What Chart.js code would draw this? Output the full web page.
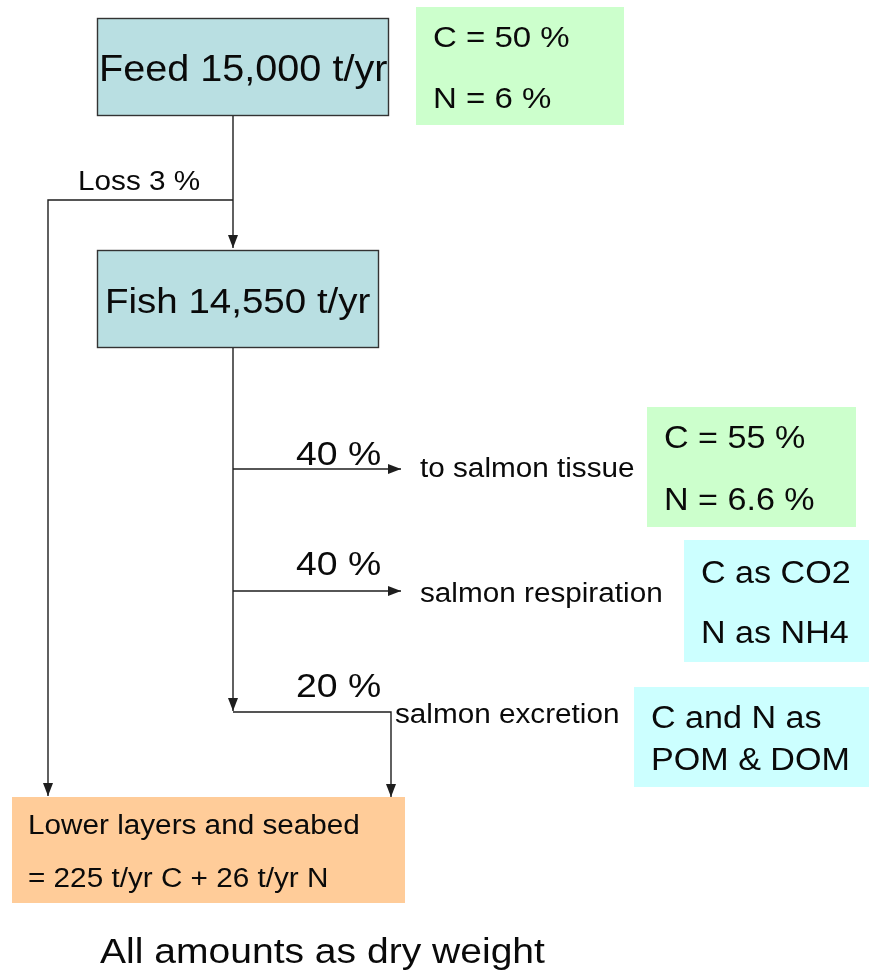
<!DOCTYPE html>
<html>
<head>
<meta charset="utf-8">
<script src="https://cdn.jsdelivr.net/npm/chart.js@4"></script>
<style>
    html, body { margin: 0; padding: 0; background: #fff; }
    #wrap { width: 869px; height: 970px; position: relative; }
</style>
</head>
<body>
<div id="wrap"><canvas id="flowChart"></canvas></div>
<script>
// Diagram content
const nodeLabels = ["Feed 15,000 t/yr", "Fish 14,550 t/yr"];
const feedShares = ["C = 50 %", "N = 6 %"];
const lossPercent = 3;
const flowPercents = [40, 40, 20];
const flowLabels = ["to salmon tissue", "salmon respiration", "salmon excretion"];
const tissueShares = ["C = 55 %", "N = 6.6 %"];
const respirationForms = ["C as CO2", "N as NH4"];
const excretionForms = ["C and N as", "POM & DOM"];
const seabedLines = ["Lower layers and seabed", "= 225 t/yr C + 26 t/yr N"];
const footnote = "All amounts as dry weight";

// Layout (diagram units = pixels of the 869x970 page)
const FONT = '"Liberation Sans", Arial, sans-serif';
const STRETCH = 1.1;
const lineColor = "#1e1e1e";

const boxes = [
    { x0: 97, y0: 18, x1: 389, y1: 116, fill: "#b9dfe2", border: true, clip: true,
      lines: [nodeLabels[0]], tx: 99, ty: [81], size: 36 },
    { x0: 416, y0: 7, x1: 624, y1: 125, fill: "#ccffcc",
      lines: feedShares, tx: 433, ty: [47, 108], size: 30 },
    { x0: 97, y0: 250, x1: 379, y1: 348, fill: "#b9dfe2", border: true,
      lines: [nodeLabels[1]], tx: 105, ty: [313], size: 35 },
    { x0: 647, y0: 407, x1: 856, y1: 527, fill: "#ccffcc",
      lines: tissueShares, tx: 664, ty: [448, 510], size: 31 },
    { x0: 684, y0: 540, x1: 869, y1: 662, fill: "#ccffff",
      lines: respirationForms, tx: 701, ty: [583, 643], size: 31 },
    { x0: 634, y0: 687, x1: 869, y1: 787, fill: "#ccffff",
      lines: excretionForms, tx: 651, ty: [728, 770], size: 31 },
    { x0: 12, y0: 797, x1: 405, y1: 903, fill: "#ffcc99",
      lines: seabedLines, tx: 28, ty: [834, 887], size: 27 }
];

const labels = [
    { text: "Loss " + lossPercent + " %", x: 78, y: 190, size: 27 },
    { text: flowPercents[0] + " %", x: 296, y: 465, size: 34 },
    { text: flowLabels[0], x: 420, y: 477, size: 27 },
    { text: flowPercents[1] + " %", x: 296, y: 575, size: 34 },
    { text: flowLabels[1], x: 420, y: 602, size: 27 },
    { text: flowPercents[2] + " %", x: 296, y: 697, size: 34 },
    { text: flowLabels[2], x: 395, y: 723, size: 27 },
    { text: footnote, x: 100, y: 963, size: 35.5 }
];

const connectors = [
    [[233, 116], [233, 248]],
    [[233, 200], [48, 200], [48, 796]],
    [[233, 348], [233, 711]],
    [[233, 469], [401, 469]],
    [[233, 591], [401, 591]],
    [[233, 712], [391, 712], [391, 797]]
];

function drawText(ctx, str, x, y, size) {
    ctx.save();
    ctx.translate(x, y);
    ctx.scale(STRETCH, 1);
    ctx.font = size + "px " + FONT;
    ctx.fillStyle = "#0a0a0a";
    ctx.textBaseline = "alphabetic";
    ctx.fillText(str, 0, 0);
    ctx.restore();
}

const diagramPlugin = {
    id: "diagram",
    beforeDatasetsDraw(chart) {
        const { ctx, scales: { x, y } } = chart;
        boxes.forEach(b => {
            const px0 = x.getPixelForValue(b.x0), px1 = x.getPixelForValue(b.x1);
            const py0 = y.getPixelForValue(b.y0), py1 = y.getPixelForValue(b.y1);
            ctx.save();
            ctx.fillStyle = b.fill;
            ctx.fillRect(px0, py0, px1 - px0, py1 - py0);
            if (b.border) {
                ctx.strokeStyle = "#333";
                ctx.lineWidth = 1.4;
                ctx.strokeRect(px0 + 0.5, py0 + 0.5, px1 - px0 - 1, py1 - py0 - 1);
            }
            ctx.restore();
        });
    },
    afterDatasetsDraw(chart) {
        const { ctx, scales: { x, y } } = chart;

        // arrowheads at the end of every connector
        chart.data.datasets.forEach(ds => {
            const pts = ds.data;
            const a = pts[pts.length - 2], b = pts[pts.length - 1];
            const ax = x.getPixelForValue(a.x), ay = y.getPixelForValue(a.y);
            const bx = x.getPixelForValue(b.x), by = y.getPixelForValue(b.y);
            const ang = Math.atan2(by - ay, bx - ax);
            ctx.save();
            ctx.translate(bx, by);
            ctx.rotate(ang);
            ctx.beginPath();
            ctx.moveTo(0, 0);
            ctx.lineTo(-13, -5);
            ctx.lineTo(-13, 5);
            ctx.closePath();
            ctx.fillStyle = lineColor;
            ctx.fill();
            ctx.restore();
        });

        boxes.forEach(b => {
            ctx.save();
            if (b.clip) {
                const px0 = x.getPixelForValue(b.x0), px1 = x.getPixelForValue(b.x1);
                const py0 = y.getPixelForValue(b.y0), py1 = y.getPixelForValue(b.y1);
                ctx.beginPath();
                ctx.rect(px0, py0, px1 - px0 - 1, py1 - py0);
                ctx.clip();
            }
            b.lines.forEach((line, i) => {
                drawText(ctx, line, x.getPixelForValue(b.tx), y.getPixelForValue(b.ty[i]), b.size);
            });
            ctx.restore();
        });

        labels.forEach(l => {
            drawText(ctx, l.text, x.getPixelForValue(l.x), y.getPixelForValue(l.y), l.size);
        });
    }
};

const ctx = document.getElementById("flowChart").getContext("2d");
new Chart(ctx, {
    type: "scatter",
    data: {
        datasets: connectors.map(path => ({
            data: path.map(p => ({ x: p[0], y: p[1] })),
            showLine: true,
            borderColor: lineColor,
            borderWidth: 1.4,
            pointRadius: 0,
            tension: 0
        }))
    },
    options: {
        responsive: true,
        maintainAspectRatio: false,
        animation: false,
        layout: { padding: 0 },
        plugins: {
            legend: { display: false },
            tooltip: { enabled: false }
        },
        scales: {
            x: { type: "linear", min: 0, max: 869, display: false },
            y: { type: "linear", min: 0, max: 970, reverse: true, display: false }
        }
    },
    plugins: [diagramPlugin]
});
</script>
</body>
</html>
